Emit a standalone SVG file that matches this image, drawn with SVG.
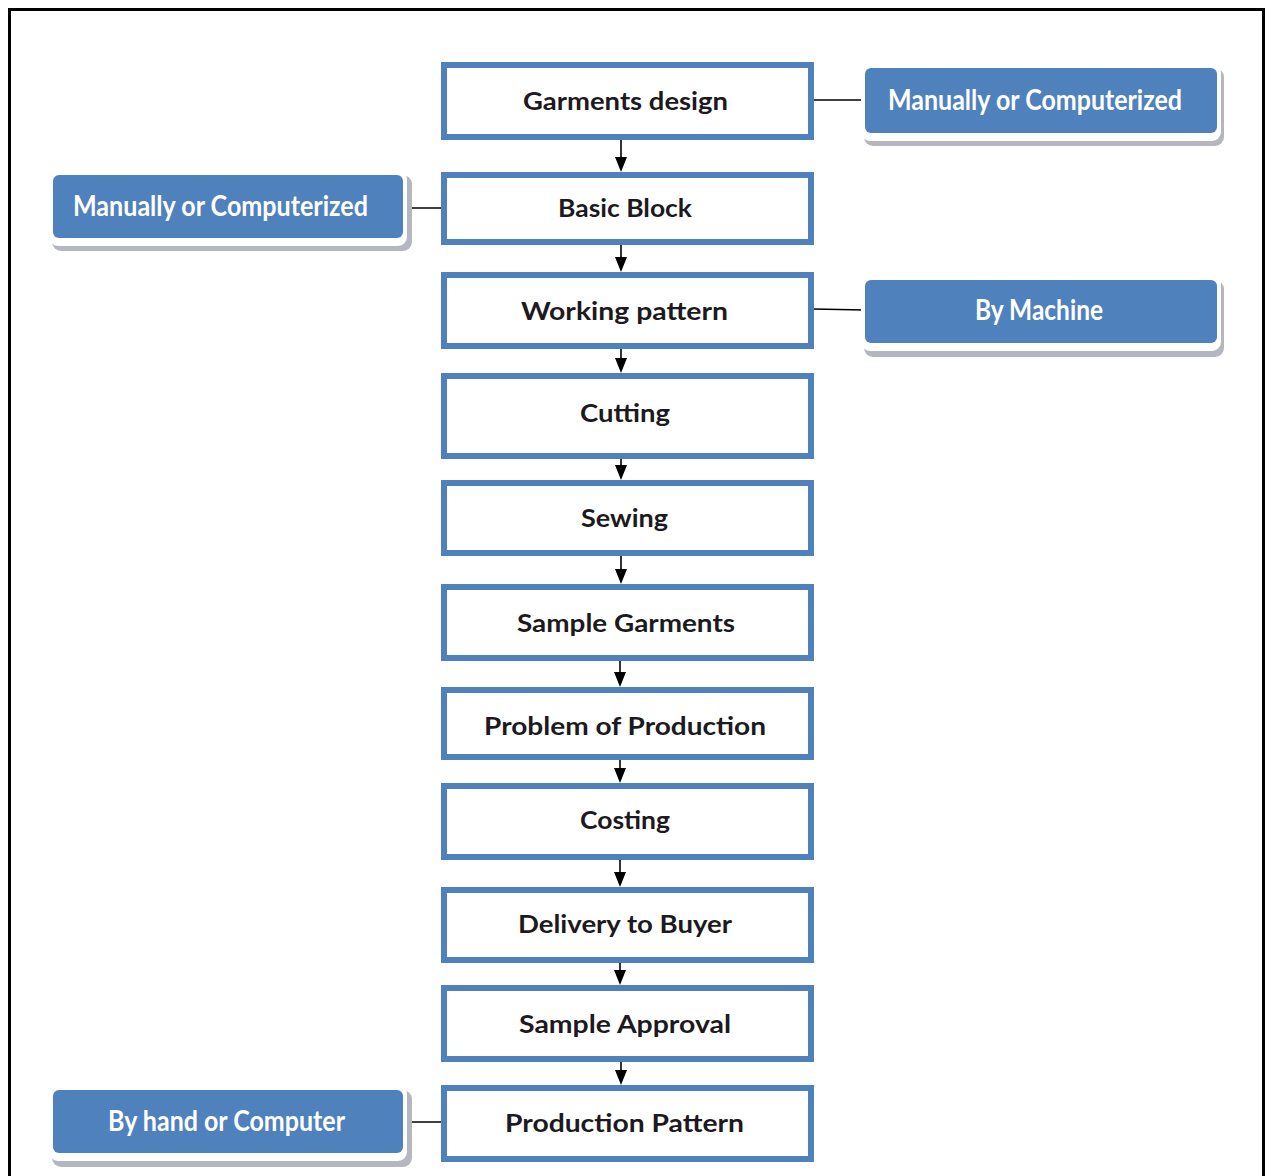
<svg xmlns="http://www.w3.org/2000/svg" width="1265" height="1176" viewBox="0 0 1265 1176">
<style>
.box{fill:#ffffff;stroke:#4f81bd;stroke-width:6}
.lbl{font-family:Lato,"Open Sans","Liberation Sans",sans-serif;font-weight:bold;font-size:25px;fill:#1c1a20}
.side{fill:#4f81bd}
.sw{fill:#ffffff}
.sh{fill:#b4b8be}
.stxt{font-family:Lato,"Open Sans","Liberation Sans",sans-serif;font-weight:bold;font-size:28px;fill:#ffffff}
.ln{stroke:#000;stroke-width:1.6;fill:none}
.ah{fill:#000}
</style>
<rect x="0" y="0" width="1265" height="1176" fill="#ffffff"/>
<path d="M9.5 1180 V9.5 H1263.5 V1180" fill="none" stroke="#000" stroke-width="3"/>
<g id="connectors">
<line class="ln" x1="621" y1="140" x2="621" y2="160"/><polygon class="ah" points="615,157 627,157 621,172"/>
<line class="ln" x1="621" y1="245" x2="621" y2="260"/><polygon class="ah" points="615,257 627,257 621,272"/>
<line class="ln" x1="621" y1="349" x2="621" y2="361"/><polygon class="ah" points="615,358 627,358 621,373"/>
<line class="ln" x1="621" y1="459" x2="621" y2="468"/><polygon class="ah" points="615,465 627,465 621,480"/>
<line class="ln" x1="621" y1="556" x2="621" y2="572"/><polygon class="ah" points="615,569 627,569 621,584"/>
<line class="ln" x1="620" y1="661" x2="620" y2="675"/><polygon class="ah" points="614,672 626,672 620,687"/>
<line class="ln" x1="620" y1="760" x2="620" y2="771"/><polygon class="ah" points="614,768 626,768 620,783"/>
<line class="ln" x1="620" y1="860" x2="620" y2="875"/><polygon class="ah" points="614,872 626,872 620,887"/>
<line class="ln" x1="620" y1="963" x2="620" y2="973"/><polygon class="ah" points="614,970 626,970 620,985"/>
<line class="ln" x1="621" y1="1062" x2="621" y2="1073"/><polygon class="ah" points="615,1070 627,1070 621,1085"/>
<line class="ln" x1="813" y1="100" x2="865" y2="100"/>
<line class="ln" x1="403" y1="208" x2="442" y2="208"/>
<line class="ln" x1="813" y1="309" x2="865" y2="310"/>
<line class="ln" x1="403" y1="1122" x2="442" y2="1122"/>
</g>
<g id="n1"><rect class="box" x="444" y="65" width="367" height="72"/><text class="lbl" x="523" y="110" textLength="205" lengthAdjust="spacingAndGlyphs">Garments design</text></g>
<g id="n2"><rect class="box" x="444" y="175" width="367" height="67"/><text class="lbl" x="558" y="217" textLength="134" lengthAdjust="spacingAndGlyphs">Basic Block</text></g>
<g id="n3"><rect class="box" x="444" y="275" width="367" height="71"/><text class="lbl" x="521" y="320" textLength="207" lengthAdjust="spacingAndGlyphs">Working pattern</text></g>
<g id="n4"><rect class="box" x="444" y="376" width="367" height="80"/><text class="lbl" x="580" y="422" textLength="90" lengthAdjust="spacingAndGlyphs">Cutting</text></g>
<g id="n5"><rect class="box" x="444" y="483" width="367" height="70"/><text class="lbl" x="581" y="527" textLength="87" lengthAdjust="spacingAndGlyphs">Sewing</text></g>
<g id="n6"><rect class="box" x="444" y="587" width="367" height="71"/><text class="lbl" x="517" y="632" textLength="218" lengthAdjust="spacingAndGlyphs">Sample Garments</text></g>
<g id="n7"><rect class="box" x="444" y="690" width="367" height="67"/><text class="lbl" x="484" y="735" textLength="282" lengthAdjust="spacingAndGlyphs">Problem of Production</text></g>
<g id="n8"><rect class="box" x="444" y="786" width="367" height="71"/><text class="lbl" x="580" y="829" textLength="90" lengthAdjust="spacingAndGlyphs">Costing</text></g>
<g id="n9"><rect class="box" x="444" y="890" width="367" height="70"/><text class="lbl" x="518" y="933" textLength="214" lengthAdjust="spacingAndGlyphs">Delivery to Buyer</text></g>
<g id="n10"><rect class="box" x="444" y="988" width="367" height="71"/><text class="lbl" x="519" y="1033" textLength="212" lengthAdjust="spacingAndGlyphs">Sample Approval</text></g>
<g id="n11"><rect class="box" x="444" y="1088" width="367" height="71"/><text class="lbl" x="505" y="1132" textLength="239" lengthAdjust="spacingAndGlyphs">Production Pattern</text></g>
<g id="s1"><rect class="sh" x="864" y="68" width="360" height="78" rx="9"/><rect class="sw" x="861" y="63" width="360" height="78" rx="9"/><rect class="side" x="865" y="68" width="352" height="65" rx="6"/><text class="stxt" x="888" y="110" textLength="294" lengthAdjust="spacingAndGlyphs">Manually or Computerized</text></g>
<g id="s2"><rect class="sh" x="52" y="175" width="360" height="76" rx="9"/><rect class="sw" x="49" y="170" width="358" height="76" rx="9"/><rect class="side" x="53" y="175" width="350" height="63" rx="6"/><text class="stxt" x="73" y="216" textLength="295" lengthAdjust="spacingAndGlyphs">Manually or Computerized</text></g>
<g id="s3"><rect class="sh" x="864" y="280" width="360" height="77" rx="9"/><rect class="sw" x="861" y="275" width="360" height="76" rx="9"/><rect class="side" x="865" y="280" width="352" height="63" rx="6"/><text class="stxt" x="975" y="320" textLength="128" lengthAdjust="spacingAndGlyphs">By Machine</text></g>
<g id="s4"><rect class="sh" x="52" y="1090" width="360" height="77" rx="9"/><rect class="sw" x="49" y="1085" width="358" height="76" rx="9"/><rect class="side" x="53" y="1090" width="350" height="63" rx="6"/><text class="stxt" x="108" y="1131" textLength="237" lengthAdjust="spacingAndGlyphs">By hand or Computer</text></g>
</svg>
